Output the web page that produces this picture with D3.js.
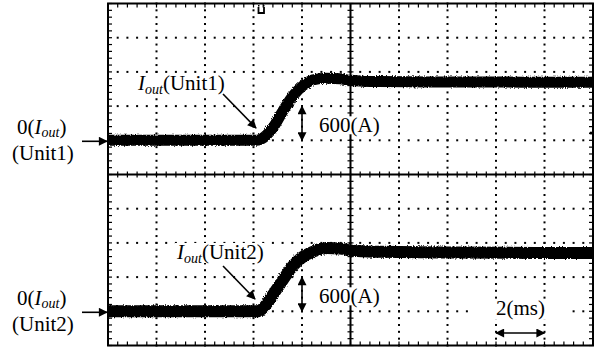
<!DOCTYPE html>
<html>
<head>
<meta charset="utf-8">
<script src="https://cdn.jsdelivr.net/npm/d3@7/dist/d3.min.js"></script>
<style>
  html, body { margin: 0; padding: 0; background: #fff; }
  svg { display: block; }
  text { font-family: "Liberation Serif", "Times New Roman", serif; fill: #000; }
</style>
</head>
<body>
<svg id="chart" width="598" height="352"></svg>
<script>
// Time axis (ms): 10 divisions of 2 ms
const timeTicks = [0, 2, 4, 6, 8, 10, 12, 14, 16, 18, 20];
// Vertical screen divisions
const divTicks = [0, 1, 2, 3, 4, 5, 6, 7, 8, 9, 10];

// Output current traces, sampled along the time axis (A)
const timeMs    = [0, 6.14, 6.35, 6.80, 7.22, 7.63, 8.04, 8.45, 9.03, 9.57, 9.98, 10.5, 11.2, 14.1, 20];
const unit1Amps = [0, 0,    30,   222,  520,  782,  957,  1062, 1088, 1078, 1052, 1038, 1030, 1022, 1020];
const unit2Amps = [0, 0,    40,   292,  555,  800,  957,  1045, 1110, 1100, 1068, 1052, 1045, 1030, 1022];

const unitNames = ["Unit1", "Unit2"];

const svg = d3.select("#chart");
const L = 108, R = 593, T = 3.5, B = 345.5, MID = (T + B) / 2;

const x = d3.scaleLinear().domain([0, 20]).range([L, R]);
const yDiv = d3.scaleLinear().domain([0, 10]).range([B, T]);
// 600 A per division, each trace's zero sits one division above its half's lower edge
const yUnit1 = d3.scaleLinear().domain([-600, 2400]).range([MID, T]);
const yUnit2 = d3.scaleLinear().domain([-600, 2400]).range([B, MID]);

const defs = svg.append("defs");
// Arrowhead marker
defs.append("marker")
  .attr("id", "head").attr("viewBox", "0 0 10 10")
  .attr("refX", 9).attr("refY", 5)
  .attr("markerWidth", 11).attr("markerHeight", 9)
  .attr("markerUnits", "userSpaceOnUse")
  .attr("orient", "auto-start-reverse")
  .append("path").attr("d", "M0,0 L10,5 L0,10 Z").attr("fill", "#000");
// Grainy edge for the scope traces
const grain = defs.append("filter").attr("id", "grain")
  .attr("x", "-5%").attr("y", "-30%").attr("width", "110%").attr("height", "160%");
grain.append("feTurbulence").attr("type", "fractalNoise")
  .attr("baseFrequency", "0.9 0.6").attr("numOctaves", 1).attr("seed", 4).attr("result", "n");
grain.append("feDisplacementMap").attr("in", "SourceGraphic").attr("in2", "n")
  .attr("scale", 4).attr("xChannelSelector", "R").attr("yChannelSelector", "G");

const grid = svg.append("g");
const minorX = d3.range(0, 20.001, 0.4);
const minorY = d3.range(0, 10.001, 0.2);

// Dotted vertical grid lines
timeTicks.filter(t => t > 0 && t < 20 && t !== 10).forEach(t => {
  grid.selectAll(null).data(minorY).join("rect")
    .attr("x", x(t) - 1).attr("y", d => yDiv(d) - 1)
    .attr("width", 2).attr("height", 2).attr("fill", "#000");
});
// Dotted horizontal grid lines
divTicks.filter(d => d > 0 && d < 10 && d !== 5).forEach(dv => {
  grid.selectAll(null).data(minorX).join("rect")
    .attr("x", d => x(d) - 1).attr("y", yDiv(dv) - 1)
    .attr("width", 2).attr("height", 2).attr("fill", "#000");
});

// Solid centre axes with minor ticks
grid.append("line").attr("x1", x(10)).attr("x2", x(10)).attr("y1", T).attr("y2", B)
  .attr("stroke", "#000").attr("stroke-width", 2);
grid.append("line").attr("x1", L).attr("x2", R).attr("y1", yDiv(5)).attr("y2", yDiv(5))
  .attr("stroke", "#000").attr("stroke-width", 2);
grid.selectAll(null).data(minorY).join("line")
  .attr("x1", x(10) - 3).attr("x2", x(10) + 3)
  .attr("y1", d => yDiv(d)).attr("y2", d => yDiv(d))
  .attr("stroke", "#000").attr("stroke-width", 1.2);
grid.selectAll(null).data(minorX).join("line")
  .attr("y1", yDiv(5) - 3).attr("y2", yDiv(5) + 3)
  .attr("x1", d => x(d)).attr("x2", d => x(d))
  .attr("stroke", "#000").attr("stroke-width", 1.2);

// Frame with inward ticks
grid.append("rect").attr("x", L).attr("y", T).attr("width", R - L).attr("height", B - T)
  .attr("fill", "none").attr("stroke", "#000").attr("stroke-width", 2);
grid.selectAll(null).data(minorX).join("line")
  .attr("x1", d => x(d)).attr("x2", d => x(d)).attr("y1", T).attr("y2", T + 4)
  .attr("stroke", "#000").attr("stroke-width", 1.2);
grid.selectAll(null).data(minorX).join("line")
  .attr("x1", d => x(d)).attr("x2", d => x(d)).attr("y1", B).attr("y2", B - 4)
  .attr("stroke", "#000").attr("stroke-width", 1.2);
grid.selectAll(null).data(minorY).join("line")
  .attr("y1", d => yDiv(d)).attr("y2", d => yDiv(d)).attr("x1", L).attr("x2", L + 4)
  .attr("stroke", "#000").attr("stroke-width", 1.2);
grid.selectAll(null).data(minorY).join("line")
  .attr("y1", d => yDiv(d)).attr("y2", d => yDiv(d)).attr("x1", R).attr("x2", R - 4)
  .attr("stroke", "#000").attr("stroke-width", 1.2);

// Trigger marker on the top edge and level marker on the right edge
svg.append("path")
  .attr("d", "M258.5,7 L258.5,13 L264,13 L264,7")
  .attr("fill", "none").attr("stroke", "#000").attr("stroke-width", 1.8);
svg.append("rect").attr("x", 258).attr("y", 5).attr("width", 1.5).attr("height", 1.5).attr("fill", "#000");
svg.append("rect").attr("x", 263).attr("y", 5).attr("width", 1.5).attr("height", 1.5).attr("fill", "#000");
svg.append("circle").attr("cx", R - 2).attr("cy", 133).attr("r", 1.6).attr("fill", "#000");

// Traces: a thick band with a grainy outer edge
function drawTrace(values, yScale, width) {
  const pts = timeMs.map((t, i) => [t, values[i]]);
  const line = d3.line().x(d => x(d[0])).y(d => yScale(d[1])).curve(d3.curveMonotoneX);
  const g = svg.append("g").attr("fill", "none").attr("stroke", "#000");
  g.append("path").attr("d", line(pts))
    .attr("stroke-width", width + 2).attr("filter", "url(#grain)");
  g.append("path").attr("d", line(pts)).attr("stroke-width", width);
}
drawTrace(unit1Amps, yUnit1, 9);
drawTrace(unit2Amps, yUnit2, 10);

// Labels
const FS = 21, SUB = 14;
const labels = svg.append("g");

// White backing box behind an in-plot label
function backing(textSel, pad) {
  const bb = textSel.node().getBBox();
  const p = Object.assign({ l: 1, r: 1, t: 0, b: 0 }, pad || {});
  labels.insert("rect", () => textSel.node())
    .attr("x", bb.x - p.l).attr("y", bb.y + 3 - p.t)
    .attr("width", bb.width + p.l + p.r).attr("height", bb.height - 6 + p.t + p.b)
    .attr("fill", "#fff");
}
function ioutLabel(xp, yp, suffix) {
  const t = labels.append("text").attr("x", xp).attr("y", yp).attr("font-size", FS);
  t.append("tspan").attr("font-style", "italic").text("I");
  t.append("tspan").attr("font-style", "italic").attr("font-size", SUB).attr("dy", 4).text("out");
  t.append("tspan").attr("dy", -4).text(suffix);
  return t;
}
function arrow(x1, y1, x2, y2, both) {
  const l = labels.append("line").attr("x1", x1).attr("y1", y1).attr("x2", x2).attr("y2", y2)
    .attr("stroke", "#000").attr("stroke-width", 1.6)
    .attr("marker-end", "url(#head)");
  if (both) l.attr("marker-start", "url(#head)");
}

const panels = [
  { name: unitNames[0], y: yUnit1, label: [138, 90], pointer: [223, 94, 256, 128] },
  { name: unitNames[1], y: yUnit2, label: [177, 259], pointer: [223, 266, 255, 299] }
];
panels.forEach(p => {
  const zeroY = p.y(0);
  backing(ioutLabel(p.label[0], p.label[1], "(" + p.name + ")"));
  arrow(p.pointer[0], p.pointer[1], p.pointer[2], p.pointer[3]);

  // Zero reference on the left
  const z = labels.append("text").attr("x", 17).attr("y", zeroY - 6).attr("font-size", FS);
  z.append("tspan").text("0(");
  z.append("tspan").attr("font-style", "italic").text("I");
  z.append("tspan").attr("font-style", "italic").attr("font-size", SUB).attr("dy", 3).text("out");
  z.append("tspan").attr("dy", -3).text(")");
  labels.append("text").attr("x", 12).attr("y", zeroY + 20).attr("font-size", FS).text("(" + p.name + ")");
  arrow(82, zeroY + 1, L - 1, zeroY + 1);

  // 600 A scale marker (one division)
  arrow(302, p.y(0), 302, p.y(600), true);
  const a = labels.append("text").attr("x", 319).attr("y", p.y(0) - 8).attr("font-size", FS).text("600(A)");
  backing(a);
});

// 2 ms time scale marker (one division)
arrow(x(16), 333, x(18), 333, true);
const ms = labels.append("text").attr("x", x(16)).attr("y", 315).attr("font-size", FS).text("2(ms)");
backing(ms, { l: 26, r: 26, t: 0, b: 2 });
</script>
</body>
</html>
